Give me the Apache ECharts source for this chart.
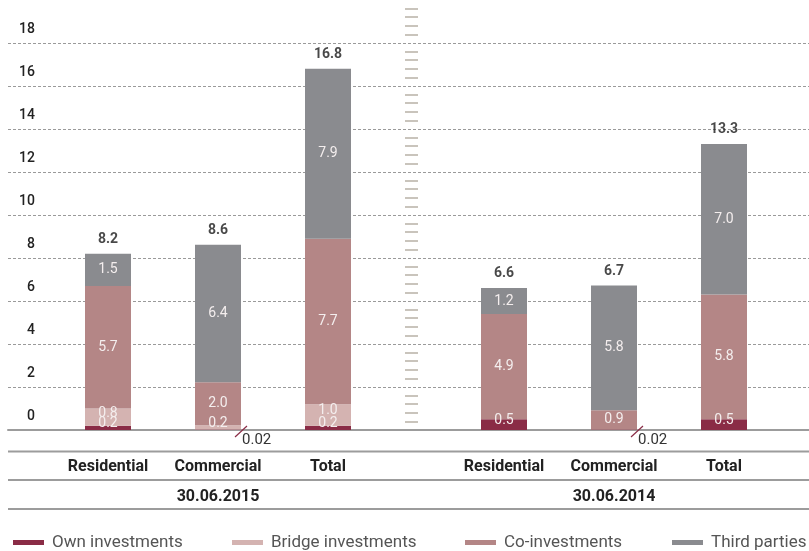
<!DOCTYPE html>
<html>
<head>
<meta charset="utf-8">
<script src="https://cdn.jsdelivr.net/npm/echarts@6/dist/echarts.min.js"></script>
<style>
  html, body { margin: 0; padding: 0; background: #fff; }
  #chart { width: 809px; height: 551px; }
</style>
</head>
<body>
<div id="chart"></div>
<script>
// data (EUR bn)
const categories = ["Residential", "Commercial", "Total"];
const periods = ["30.06.2015", "30.06.2014"];
const seriesNames = ["Own investments", "Bridge investments", "Co-investments", "Third parties"];

const own2015 = [0.2, 0.02, 0.2];
const bridge2015 = [0.8, 0.2, 1.0];
const co2015 = [5.7, 2.0, 7.7];
const third2015 = [1.5, 6.4, 7.9];
const totals2015 = [8.2, 8.6, 16.8];

const own2014 = [0.5, 0.02, 0.5];
const bridge2014 = [0, 0, 0];
const co2014 = [4.9, 0.9, 5.8];
const third2014 = [1.2, 5.8, 7.0];
const totals2014 = [6.6, 6.7, 13.3];

const colors = ["#8a2c46", "#d4b3b1", "#b48686", "#8a8b8f"];
const FONT = "Roboto";
const BAR_W = 46;

const groups = [
  { own: own2015, bridge: bridge2015, co: co2015, third: third2015, totals: totals2015 },
  { own: own2014, bridge: bridge2014, co: co2014, third: third2014, totals: totals2014 }
];

function insideLabel(dy) {
  return {
    show: true,
    position: "inside",
    offset: [0, dy],
    color: "#f4eeee",
    fontFamily: FONT,
    fontSize: 14,
    formatter: p => (p.value >= 0.1 ? p.value.toFixed(1) : "")
  };
}

// tiny own investments drawn as a slash + value outside the bar
function renderTiny(params, api) {
  const p = api.coord([api.value(0), 0]);
  const right = p[0] + BAR_W / 2;
  return {
    type: "group",
    children: [
      {
        type: "line",
        shape: { x1: right - 6, y1: p[1] + 7, x2: right + 6, y2: p[1] - 4 },
        style: { stroke: colors[0], lineWidth: 1.2 }
      },
      {
        type: "text",
        style: {
          text: api.value(1).toFixed(2),
          x: right + 1,
          y: p[1] + 10,
          fill: "#333",
          fontFamily: FONT,
          fontSize: 15,
          align: "left",
          verticalAlign: "middle"
        }
      }
    ]
  };
}

const series = [];
groups.forEach((g, i) => {
  const ax = { xAxisIndex: 1 + i, yAxisIndex: 2 + i };
  const stack = "s" + i;
  [g.own, g.bridge, g.co, g.third].forEach((vals, k) => {
    series.push(Object.assign({
      name: seriesNames[k],
      type: "bar",
      stack: stack,
      barWidth: BAR_W,
      data: vals,
      itemStyle: { color: colors[k] },
      label: insideLabel(k < 2 ? -4 : 0),
      emphasis: { disabled: true }
    }, ax));
  });
  series.push(Object.assign({
    type: "scatter",
    data: g.totals,
    symbolSize: 1,
    itemStyle: { color: "rgba(0,0,0,0)" },
    label: {
      show: true,
      position: "top",
      distance: 7,
      color: "#1a1a1a",
      fontFamily: FONT,
      fontWeight: "bold",
      fontSize: 14,
      formatter: p => p.value.toFixed(1)
    },
    z: 5
  }, ax));
  const tiny = [];
  g.own.forEach((v, j) => { if (v < 0.1) tiny.push([j, v]); });
  series.push(Object.assign({
    type: "custom",
    data: tiny,
    renderItem: renderTiny,
    clip: false,
    z: 6
  }, ax));
});

const gridBase = { top: 0, height: 430, containLabel: false, outerBoundsMode: "none" };

const option = {
  animation: false,
  backgroundColor: "#fff",
  grid: [
    Object.assign({ left: 8, right: 0 }, gridBase),
    Object.assign({ left: 53, width: 330 }, gridBase),
    Object.assign({ left: 449, width: 330 }, gridBase)
  ],
  xAxis: [
    {
      gridIndex: 0, type: "value", min: 0, max: 1,
      axisLine: { show: true, lineStyle: { color: "#9c9c9c", width: 2 } },
      axisTick: { show: false }, axisLabel: { show: false }, splitLine: { show: false }
    },
    ...[1, 2].map(gi => ({
      gridIndex: gi, type: "category", data: categories, position: "bottom",
      axisLine: { show: false }, axisTick: { show: false },
      axisLabel: { interval: 0, margin: 29, color: "#222", fontFamily: FONT, fontWeight: "bold", fontSize: 16 }
    })),
    ...[1, 2].map(gi => ({
      gridIndex: gi, type: "category", data: [periods[gi - 1]], position: "bottom",
      axisLine: { show: false }, axisTick: { show: false },
      axisLabel: { interval: 0, margin: 59, color: "#222", fontFamily: FONT, fontWeight: "bold", fontSize: 16 }
    }))
  ],
  yAxis: [
    {
      gridIndex: 0, type: "value", min: 0, max: 20, interval: 2,
      axisLine: { show: false }, axisTick: { show: false },
      axisLabel: {
        inside: true, align: "right", verticalAlign: "bottom", margin: 27,
        padding: [0, 0, 7, 0], showMaxLabel: false,
        color: "#222", fontFamily: FONT, fontWeight: 500, fontSize: 14
      },
      splitLine: {
        show: true, showMinLine: false, showMaxLine: false,
        lineStyle: { color: "#9a9a9a", type: [3, 2], width: 1 }
      }
    },
    {
      gridIndex: 0, type: "value", min: 0, max: 20, interval: 2,
      position: "right", offset: -404,
      axisLine: { show: false }, axisTick: { show: false }, axisLabel: { show: false },
      splitLine: { show: false },
      minorTick: { show: true, splitNumber: 5, length: 13, lineStyle: { color: "#c9c4bc", width: 2 } }
    },
    { gridIndex: 1, type: "value", min: 0, max: 20, show: false },
    { gridIndex: 2, type: "value", min: 0, max: 20, show: false }
  ],
  legend: seriesNames.map((name, k) => ({
    data: [name],
    left: [8, 227, 460, 667][k],
    top: 529,
    icon: "rect",
    itemWidth: 31,
    itemHeight: 5,
    selectedMode: false,
    textStyle: { color: "#555", fontFamily: FONT, fontSize: 17, padding: [0, 0, 0, 3] }
  })),
  graphic: [451.5, 480, 509].map(y => ({
    type: "line",
    shape: { x1: 8, y1: y, x2: 809, y2: y },
    style: { stroke: "#9c9c9c", lineWidth: 2 },
    silent: true
  })),
  series: series
};

const myChart = echarts.init(document.getElementById("chart"));
myChart.setOption(option);
</script>
</body>
</html>
